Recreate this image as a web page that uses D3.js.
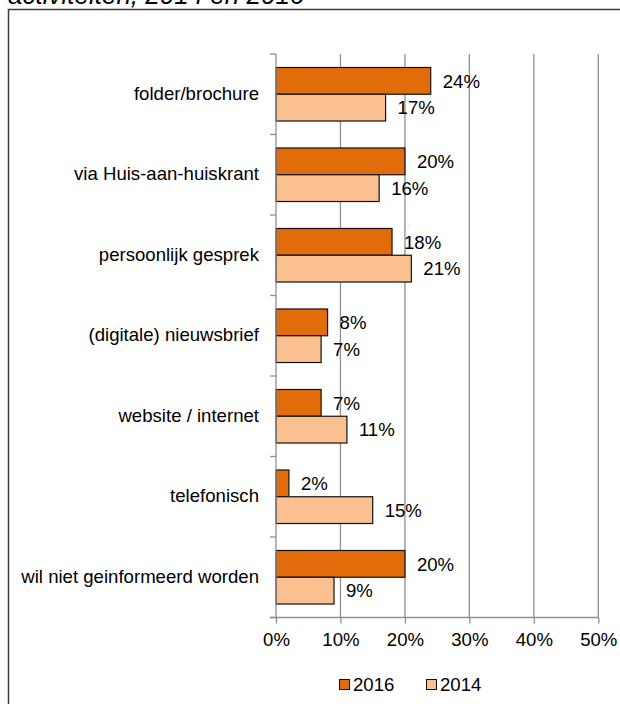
<!DOCTYPE html>
<html>
<head>
<meta charset="utf-8">
<script src="https://cdn.jsdelivr.net/npm/d3@7"></script>
<style>
  html, body { margin: 0; padding: 0; background: #fff; }
  svg { display: block; font-family: "Liberation Sans", Arial, sans-serif; }
</style>
</head>
<body>
<svg id="chart" width="620" height="704"></svg>
<script>
// Ways respondents want to be informed, 2016 vs 2014 (share of respondents)
const categories = [
  "folder/brochure",
  "via Huis-aan-huiskrant",
  "persoonlijk gesprek",
  "(digitale) nieuwsbrief",
  "website / internet",
  "telefonisch",
  "wil niet geinformeerd worden"
];
const values2016 = [24, 20, 18, 8, 7, 2, 20];
const values2014 = [17, 16, 21, 7, 11, 15, 9];
const seriesNames = ["2016", "2014"];
const xTicks = [0, 10, 20, 30, 40, 50];
const titleText = "activiteiten, 2014 en 2016";

const colors = { "2016": "#E36C0A", "2014": "#FAC090" };

const rows = categories.map((c, i) => ({
  category: c,
  "2016": values2016[i],
  "2014": values2014[i]
}));

const svg = d3.select("#chart");
const fontSize = 18.6;

// title (partly above the visible area) and outer frame
svg.append("text")
  .attr("x", 8)
  .attr("y", 4)
  .attr("font-size", 26)
  .attr("font-style", "italic")
  .attr("fill", "#000")
  .text(titleText);

svg.append("rect")
  .attr("x", 8.5)
  .attr("y", 9.5)
  .attr("width", 640)
  .attr("height", 720)
  .attr("fill", "none")
  .attr("stroke", "#3c3c3c")
  .attr("stroke-width", 1.5);

const plot = { left: 276, right: 598.3, top: 54, bottom: 617.5 };

const x = d3.scaleLinear()
  .domain([0, 50])
  .range([plot.left, plot.right]);

const y = d3.scaleBand()
  .domain(categories)
  .range([plot.top, plot.bottom])
  .paddingInner(0.335)
  .paddingOuter(0.1675);

const ySub = d3.scaleBand()
  .domain(seriesNames)
  .range([0, y.bandwidth()]);

// vertical gridlines
svg.append("g")
  .selectAll("line")
  .data(xTicks.filter(t => t > 0))
  .join("line")
  .attr("x1", d => x(d)).attr("x2", d => x(d))
  .attr("y1", plot.top).attr("y2", plot.bottom)
  .attr("stroke", "#8f8f8f")
  .attr("stroke-width", 1.3);

// bars
const groups = svg.append("g")
  .selectAll("g")
  .data(rows)
  .join("g")
  .attr("transform", d => `translate(0,${y(d.category)})`);

groups.selectAll("rect")
  .data(d => seriesNames.map(s => ({ s, v: d[s] })))
  .join("rect")
  .attr("x", x(0))
  .attr("y", d => ySub(d.s))
  .attr("width", d => x(d.v) - x(0))
  .attr("height", ySub.bandwidth())
  .attr("fill", d => colors[d.s])
  .attr("stroke", "#111")
  .attr("stroke-width", 1.2);

groups.selectAll("text")
  .data(d => seriesNames.map(s => ({ s, v: d[s] })))
  .join("text")
  .attr("x", d => x(d.v) + 12)
  .attr("y", d => ySub(d.s) + ySub.bandwidth() / 2)
  .attr("dy", "0.36em")
  .attr("font-size", fontSize)
  .attr("fill", "#000")
  .text(d => d.v + "%");

// y axis: category labels with ticks at band boundaries
const yAxis = svg.append("g");
yAxis.append("line")
  .attr("x1", plot.left).attr("x2", plot.left)
  .attr("y1", plot.top).attr("y2", plot.bottom)
  .attr("stroke", "#8f8f8f").attr("stroke-width", 1.3);
const bounds = categories.map(c => y(c) - y.step() * y.paddingOuter())
  .concat([plot.bottom]);
yAxis.selectAll("line.tick")
  .data(bounds)
  .join("line")
  .attr("class", "tick")
  .attr("x1", plot.left - 6).attr("x2", plot.left)
  .attr("y1", d => d).attr("y2", d => d)
  .attr("stroke", "#8f8f8f").attr("stroke-width", 1.3);
yAxis.selectAll("text")
  .data(categories)
  .join("text")
  .attr("x", plot.left - 17)
  .attr("y", d => y(d) + y.bandwidth() / 2)
  .attr("dy", "0.3em")
  .attr("text-anchor", "end")
  .attr("font-size", fontSize)
  .attr("fill", "#000")
  .text(d => d);

// x axis
const xAxis = d3.axisBottom(x)
  .tickValues(xTicks)
  .tickSize(6)
  .tickPadding(9)
  .tickFormat(d => d + "%");
const xg = svg.append("g")
  .attr("transform", `translate(0,${plot.bottom})`)
  .call(xAxis);
xg.select(".domain").remove();
xg.append("line")
  .attr("x1", plot.left - 6).attr("x2", plot.right)
  .attr("y1", 0).attr("y2", 0)
  .attr("stroke", "#8f8f8f").attr("stroke-width", 1.3);
xg.selectAll(".tick line").attr("stroke", "#8f8f8f").attr("stroke-width", 1.3);
xg.selectAll(".tick text")
  .attr("font-size", fontSize)
  .attr("font-family", "Liberation Sans, Arial, sans-serif")
  .attr("fill", "#000");

// legend
const legendItems = [
  { s: "2016", x: 339.5 },
  { s: "2014", x: 426.5 }
];
const legend = svg.append("g").selectAll("g")
  .data(legendItems)
  .join("g")
  .attr("transform", d => `translate(${d.x},679.5)`);
legend.append("rect")
  .attr("width", 10).attr("height", 10)
  .attr("fill", d => colors[d.s])
  .attr("stroke", "#111").attr("stroke-width", 1);
legend.append("text")
  .attr("x", 13.5)
  .attr("y", 11.5)
  .attr("font-size", fontSize)
  .attr("fill", "#000")
  .text(d => d.s);
</script>
</body>
</html>
